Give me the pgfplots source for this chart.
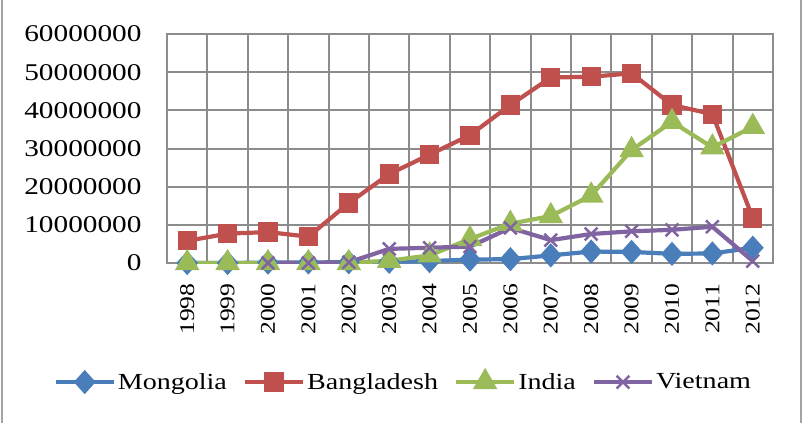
\documentclass[border=0pt]{standalone}
\usepackage{fontspec}
\setmainfont{Liberation Serif}[FakeStretch=1.22]
\usepackage{pgfplots}
\pgfplotsset{compat=1.18}
\definecolor{cBlue}{HTML}{4A7EBB}
\definecolor{cRed}{HTML}{C0504D}
\definecolor{cGreen}{HTML}{9BBB59}
\definecolor{cPurple}{HTML}{8064A2}
\definecolor{cGrid}{HTML}{8C8C8C}
\begin{document}
\begin{tikzpicture}
\useasboundingbox (-167pt,-160pt) rectangle (639pt,263pt);
\draw[cGrid!80, line width=1.5pt] (-165pt,-160pt) -- (-165pt,263pt);
\draw[cGrid!80, line width=1.5pt] (634pt,-160pt) -- (634pt,263pt);
\begin{axis}[
  at={(0pt,0pt)}, anchor=south west,
  scale only axis, width=606pt, height=229pt,
  xmin=-0.5, xmax=14.5, ymin=0, ymax=60000000,
  xtick={-0.5,0.5,1.5,2.5,3.5,4.5,5.5,6.5,7.5,8.5,9.5,10.5,11.5,12.5,13.5,14.5},
  xticklabels={},
  xmajorgrids,
  extra x ticks={0,1,2,3,4,5,6,7,8,9,10,11,12,13,14},
  extra x tick labels={1998,1999,2000,2001,2002,2003,2004,2005,2006,2007,2008,2009,2010,2011,2012},
  extra x tick style={grid=none, major tick length=0pt},
  ytick={0,10000000,20000000,30000000,40000000,50000000,60000000},
  scaled y ticks=false,
  /pgf/number format/assume math mode=true,
  yticklabel style={/pgf/number format/fixed,/pgf/number format/1000 sep={}, font=\fontsize{24}{27}\selectfont, xshift=-22pt},
  xticklabel style={rotate=90, anchor=east, font=\fontsize{21}{24}\selectfont, xshift=-17pt},
  major tick length=0pt,
  ymajorgrids,
  grid style={draw=cGrid, line width=2pt},
  major grid style={draw=cGrid, line width=2pt},
  axis line style={cGrid, line width=2pt},
  legend columns=4,
  legend style={draw=none, fill=none, at={(axis description cs:0.39,-0.52)}, anchor=center,
    font=\fontsize{23}{26}\selectfont,
    /tikz/every even column/.append style={column sep=14pt}},
  legend image code/.code={
    \draw[#1, mark repeat=2, mark phase=2] plot coordinates {(0pt,0pt) (29pt,0pt) (58pt,0pt)};
  },
  every axis plot/.append style={line width=4.2pt},
]
\addplot[cBlue, mark=diamond*, mark size=9pt, mark options={xscale=1.2}] coordinates {
(0,0) (1,0) (2,100000) (3,150000) (4,200000) (5,300000) (6,500000) (7,900000) (8,1000000)
(9,2000000) (10,3000000) (11,2900000) (12,2400000) (13,2500000) (14,4000000)};
\addlegendentry{Mongolia}
\addplot[cRed, mark=square*, mark size=7.5pt] coordinates {
(0,5800000) (1,7700000) (2,8100000) (3,6900000) (4,15700000) (5,23300000) (6,28400000)
(7,33500000) (8,41400000) (9,48600000) (10,48800000) (11,49700000) (12,41400000) (13,39000000) (14,11800000)};
\addlegendentry{Bangladesh}
\addplot[cGreen, mark=triangle*, mark size=10pt] coordinates {
(0,0) (1,0) (2,0) (3,0) (4,0) (5,600000) (6,2000000) (7,6300000) (8,10300000)
(9,12300000) (10,17700000) (11,29600000) (12,37000000) (13,30300000) (14,35700000)};
\addlegendentry{India}
\addplot[cPurple, mark=x, mark size=9pt, mark options={line width=2.5pt}] coordinates {
(2,0) (3,0) (4,200000) (5,3700000) (6,4000000) (7,4300000) (8,9200000)
(9,6000000) (10,7600000) (11,8300000) (12,8700000) (13,9500000) (14,500000)};
\addlegendentry{Vietnam}
\end{axis}
\end{tikzpicture}
\end{document}
